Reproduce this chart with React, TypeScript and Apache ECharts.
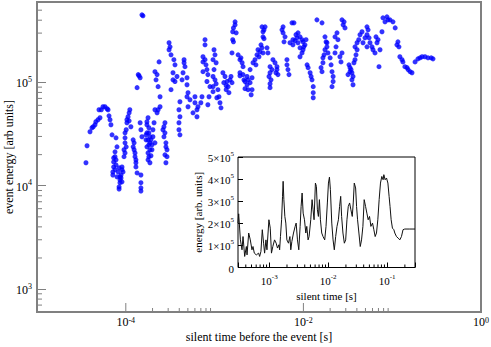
import React, { useEffect, useRef } from "react";
import * as echarts from "echarts";

// ---- main scatter: [silent time (s), event energy (arb units)] ----
const leftStreaks: number[][] = [
  [3.56e-5, 1.67e4], [3.66e-5, 2.44e4], [3.95e-5, 3.33e4], [4.16e-5, 3.64e4], [4.3e-5, 3.72e4], [4.5e-5, 3.89e4],
  [4.6e-5, 4.16e4], [4.86e-5, 4.35e4], [5.12e-5, 4.55e4], [4.99e-5, 5.44e4], [5.3e-5, 5.44e4], [5.53e-5, 5.81e4],
  [5.83e-5, 5.81e4], [6.15e-5, 5.56e4], [6.31e-5, 5.44e4], [6.47e-5, 4.75e4], [6.64e-5, 4.35e4], [6.8e-5, 3.89e4],
  [7.0e-5, 3.11e4], [7.76e-5, 2.91e4],
  [7.96e-5, 2.38e4], [7.56e-5, 2.13e4], [7.56e-5, 1.91e4], [7.3e-5, 1.7e4], [7.3e-5, 1.52e4], [7.15e-5, 1.36e4],
  [7.56e-5, 1.43e4], [7.96e-5, 1.22e4], [7.76e-5, 1.78e4], [7.15e-5, 1.27e4],
  [7.3e-5, 1.86e4], [7.76e-5, 1.59e4], [8.2e-5, 1.36e4], [8.6e-5, 1.22e4], [9.06e-5, 1.09e4], [8.4e-5, 1.49e4],
  [9.06e-5, 1.52e4], [9.06e-5, 1.43e4], [8.83e-5, 1.27e4], [8.6e-5, 1.14e4], [8.6e-5, 1.07e4], [8.4e-5, 9.76e3],
  [8.4e-5, 9.3e3], [8.83e-5, 1.19e4], [9.3e-5, 1.36e4],
  [9.8e-5, 2.6e4], [9.55e-5, 2.23e4], [9.55e-5, 1.91e4], [9.8e-5, 3.25e4], [1.03e-4, 4.07e4], [1.06e-4, 4.65e4],
  [1.11e-4, 5.44e4], [1.09e-4, 5.08e4], [1.14e-4, 3.72e4], [1.03e-4, 4.35e4], [1.01e-4, 3.48e4], [9.8e-5, 2.91e4],
  [1.09e-4, 4.25e4], [1.01e-4, 2.38e4], [9.8e-5, 2.08e4],
  [1.21e-4, 2.78e4], [1.21e-4, 2.38e4], [1.27e-4, 2.08e4], [1.3e-4, 1.78e4], [1.3e-4, 1.52e4], [1.34e-4, 1.33e4],
  [1.24e-4, 2.6e4], [1.24e-4, 2.23e4], [1.27e-4, 1.91e4], [1.3e-4, 1.67e4],
  [1.38e-4, 1.19e5], [1.45e-4, 1.11e5], [1.34e-4, 8.9e4], [1.41e-4, 1.16e5], [1.45e-4, 4.07e4], [1.48e-4, 3.48e4],
  [1.52e-4, 2.98e4], [1.48e-4, 1.27e4], [1.48e-4, 1.07e4], [1.48e-4, 9.55e3], [1.48e-4, 8.9e3], [1.56e-4, 4.41e5],
  [1.52e-4, 4.51e5],
  [1.78e-4, 4.55e4], [1.73e-4, 3.89e4], [1.73e-4, 3.25e4], [1.69e-4, 2.78e4], [1.73e-4, 2.38e4], [1.78e-4, 2.08e4],
  [1.87e-4, 2.98e4], [1.87e-4, 2.6e4], [1.97e-4, 2.23e4], [1.78e-4, 1.78e4], [1.87e-4, 1.67e4], [2.02e-4, 3.48e4],
  [1.82e-4, 3.64e4], [1.92e-4, 1.95e4], [1.69e-4, 3.11e4], [1.82e-4, 2.49e4],
  [1.73e-4, 4.16e4], [1.82e-4, 3.25e4], [1.92e-4, 2.78e4], [1.87e-4, 2.23e4], [1.82e-4, 1.91e4], [1.97e-4, 2.49e4],
  [1.78e-4, 2.78e4],
  [2.13e-4, 1.27e5], [2.25e-4, 1.19e5], [2.19e-4, 1.06e5], [2.31e-4, 9.1e4], [2.37e-4, 1.58e5], [2.43e-4, 7.27e4],
  [2.31e-4, 5.44e4], [2.43e-4, 5.81e4], [2.25e-4, 5.08e4], [2.13e-4, 5.44e4], [2.08e-4, 4.07e4], [2.02e-4, 2.98e4],
  [2.13e-4, 2.6e4],
  [2.76e-4, 4.07e4], [2.69e-4, 2.98e4], [2.83e-4, 2.6e4], [2.91e-4, 2.23e4], [2.91e-4, 1.91e4], [2.83e-4, 1.67e4],
  [2.62e-4, 3.48e4], [2.76e-4, 3.25e4], [2.83e-4, 2.38e4], [2.76e-4, 1.99e4], [2.69e-4, 3.72e4],
  [3.07e-4, 2.42e5], [3.07e-4, 2.07e5], [3.23e-4, 1.85e5], [3.48e-4, 1.66e5], [3.58e-4, 1.48e5], [3.4e-4, 1.24e5],
  [3.4e-4, 1.06e5], [3.58e-4, 1.02e5], [3.23e-4, 8.5e4], [3.77e-4, 1.14e5], [3.15e-4, 2.21e5],
  [4.07e-4, 6.5e4], [3.97e-4, 5.44e4], [4.07e-4, 4.65e4], [3.97e-4, 4.07e4], [3.97e-4, 3.48e4], [4.07e-4, 3.11e4],
  [4.53e-4, 1.66e5], [4.64e-4, 1.42e5], [4.41e-4, 1.24e5], [4.3e-4, 1.06e5], [4.89e-4, 1.11e5], [4.89e-4, 9.5e4],
  [5.02e-4, 7.95e4], [4.89e-4, 7.27e4], [5.28e-4, 6.8e4], [5.02e-4, 5.81e4], [4.53e-4, 1.55e5],
  [6.01e-4, 6.36e4], [6.33e-4, 5.44e4], [5.71e-4, 5.08e4], [6.5e-4, 5.81e4], [6.33e-4, 4.65e4], [6.01e-4, 7.27e4],
];

const middleStreaks: number[][] = [
  [7.21e-4, 7.27e4], [7.0e-4, 6.36e4], [7.8e-4, 2.59e5], [7.8e-4, 2.31e5], [7.4e-4, 1.77e5], [7.4e-4, 1.58e5],
  [7.8e-4, 1.66e5], [8.2e-4, 1.33e5], [7.4e-4, 1.27e5], [8.4e-4, 1.19e5], [8.2e-4, 1.02e5], [8.87e-4, 9.1e4],
  [8.65e-4, 7.27e4], [8.4e-4, 6.08e4], [8.0e-4, 1.48e5],
  [9.85e-4, 2.07e5], [1.01e-3, 1.85e5], [9.6e-4, 1.66e5], [1.04e-3, 1.55e5], [9.6e-4, 1.14e5], [1.01e-3, 1.06e5],
  [9.6e-4, 9.1e4], [1.09e-3, 8.5e4], [1.12e-3, 7.27e4], [1.15e-3, 6.36e4], [1.18e-3, 5.68e4], [1.06e-3, 7.11e4],
  [1.04e-3, 9.7e4], [9.85e-4, 1.33e5], [9.6e-4, 8.13e4],
  [1.24e-3, 1.24e5], [1.31e-3, 1.14e5], [1.38e-3, 1.02e5], [1.27e-3, 9.95e4], [1.42e-3, 9.1e4], [1.35e-3, 8.5e4],
  [1.45e-3, 7.95e4], [1.53e-3, 1.14e5], [1.57e-3, 9.95e4], [1.49e-3, 1.06e5], [1.35e-3, 9.3e4],
  [1.7e-3, 3.86e5], [1.63e-3, 3.37e5], [1.6e-3, 3.09e5], [1.75e-3, 3.02e5], [1.6e-3, 2.59e5], [1.63e-3, 2.47e5],
  [1.57e-3, 1.93e5], [1.7e-3, 3.61e5],
  [1.84e-3, 1.85e5], [1.93e-3, 1.66e5], [2.04e-3, 1.55e5], [2.09e-3, 1.42e5], [1.93e-3, 1.24e5], [1.98e-3, 1.73e5],
  [1.93e-3, 1.16e5], [2.09e-3, 1.19e5], [2.32e-3, 1.14e5], [2.2e-3, 1.02e5], [2.38e-3, 1.06e5], [2.51e-3, 9.95e4],
  [2.32e-3, 9.5e4], [2.51e-3, 1.33e5], [2.38e-3, 8.5e4], [2.64e-3, 8.5e4], [2.58e-3, 7.6e4], [2.2e-3, 8.7e4],
  [2.14e-3, 1.06e5], [2.64e-3, 1.11e5],
  [2.85e-3, 1.66e5], [3.0e-3, 1.85e5], [3.08e-3, 2.07e5], [3.16e-3, 1.77e5], [3.33e-3, 2.31e5], [3.42e-3, 2.16e5],
  [3.51e-3, 1.93e5], [2.71e-3, 1.55e5], [2.92e-3, 1.48e5], [3.24e-3, 1.98e5],
  [3.42e-3, 3.45e5], [3.7e-3, 3.45e5], [3.51e-3, 3.09e5], [3.51e-3, 2.76e5], [3.6e-3, 2.65e5], [3.6e-3, 3.23e5],
  [3.89e-3, 2.16e5], [3.99e-3, 1.93e5], [4.21e-3, 1.42e5], [4.43e-3, 1.33e5], [4.21e-3, 1.24e5], [4.32e-3, 1.06e5],
  [4.21e-3, 8.9e4], [4.21e-3, 9.7e4], [4.54e-3, 1.66e5], [4.79e-3, 1.55e5], [5.04e-3, 1.42e5], [4.91e-3, 1.24e5],
  [5.04e-3, 1.33e5], [5.17e-3, 1.19e5], [4.1e-3, 1.14e5],
  [5.9e-3, 3.45e5], [5.9e-3, 3.02e5], [6.21e-3, 2.76e5], [6.05e-3, 2.47e5], [6.53e-3, 1.66e5], [6.53e-3, 1.48e5],
  [6.7e-3, 1.33e5], [6.88e-3, 1.19e5], [5.74e-3, 3.23e5],
  [7.44e-3, 3.77e5], [7.83e-3, 3.77e5], [7.63e-3, 2.59e5], [7.06e-3, 2.42e5], [7.63e-3, 2.31e5], [8.47e-3, 2.7e5],
  [9.16e-3, 2.76e5], [9.64e-3, 2.59e5], [9.9e-3, 2.47e5], [8.7e-3, 2.42e5], [1.04e-2, 2.31e5], [9.16e-3, 2.16e5],
  [9.9e-3, 2.07e5], [9.64e-3, 1.93e5], [9.16e-3, 1.77e5], [1.07e-2, 2.59e5], [8.7e-3, 3.02e5], [8.25e-3, 2.89e5],
  [8.04e-3, 2.53e5], [1.01e-2, 2.21e5],
  [1.1e-2, 1.48e5], [1.13e-2, 1.39e5], [1.19e-2, 1.24e5], [1.25e-2, 1.06e5], [1.29e-2, 9.1e4], [1.29e-2, 7.95e4],
  [1.29e-2, 7.11e4], [1.22e-2, 1.14e5], [1.42e-2, 4.03e5],
];

const rightStreaks: number[][] = [
  [1.62e-2, 3.77e5], [1.75e-2, 2.76e5], [1.8e-2, 2.47e5], [1.84e-2, 2.21e5], [1.75e-2, 2.07e5], [1.66e-2, 1.73e5],
  [1.66e-2, 1.55e5], [1.62e-2, 1.27e5], [1.84e-2, 2.42e5], [1.89e-2, 1.93e5], [1.71e-2, 1.85e5], [1.58e-2, 1.39e5],
  [2.0e-2, 1.73e5], [2.05e-2, 1.48e5], [2.1e-2, 1.27e5], [2.16e-2, 1.14e5], [2.16e-2, 1.02e5], [2.1e-2, 9.1e4],
  [2.27e-2, 2.76e5], [2.39e-2, 3.02e5], [2.45e-2, 2.59e5], [2.33e-2, 2.21e5], [2.27e-2, 1.93e5], [2.58e-2, 1.77e5],
  [2.65e-2, 1.58e5], [2.72e-2, 1.93e5], [2.8e-2, 3.61e5], [2.94e-2, 3.37e5], [2.72e-2, 4.03e5], [2.87e-2, 3.86e5],
  [3.26e-2, 1.48e5], [3.44e-2, 1.33e5], [3.52e-2, 1.24e5], [3.18e-2, 1.19e5], [3.62e-2, 1.14e5], [3.62e-2, 9.5e4],
  [3.35e-2, 1.27e5], [3.81e-2, 1.66e5], [3.91e-2, 1.85e5], [4.02e-2, 2.07e5], [3.81e-2, 2.21e5], [4.02e-2, 2.42e5],
  [4.2e-2, 2.59e5], [4.34e-2, 2.89e5], [4.57e-2, 3.09e5], [3.71e-2, 1.55e5], [3.35e-2, 1.39e5], [3.52e-2, 1.06e5],
  [5.2e-2, 3.45e5], [5.35e-2, 3.23e5], [5.2e-2, 2.89e5], [5.49e-2, 2.7e5], [5.62e-2, 2.42e5], [5.92e-2, 2.21e5],
  [6.08e-2, 2.07e5], [6.4e-2, 1.93e5], [6.74e-2, 2.42e5], [6.92e-2, 2.59e5], [6.57e-2, 2.76e5], [7.29e-2, 2.07e5],
  [4.94e-2, 2.7e5], [4.69e-2, 2.42e5], [5.2e-2, 2.21e5], [7.67e-2, 3.09e5], [7.1e-2, 1.42e5],
  [7.87e-2, 4.22e5], [8.73e-2, 4.31e5], [9.44e-2, 4.03e5], [0.102, 3.86e5], [8.3e-2, 3.86e5], [0.108, 3.37e5],
  [8.95e-2, 4.03e5],
  [0.116, 2.47e5], [0.113, 2.31e5], [0.119, 2.21e5], [0.122, 1.77e5], [0.129, 1.66e5], [0.132, 1.58e5],
  [0.139, 1.42e5], [0.147, 1.39e5], [0.159, 1.27e5], [0.167, 1.24e5], [0.151, 1.33e5],
  [0.181, 1.58e5], [0.195, 1.69e5], [0.206, 1.73e5], [0.217, 1.77e5], [0.234, 1.77e5], [0.253, 1.73e5],
  [0.275, 1.73e5], [0.288, 1.69e5],
];

// ---- inset line: energy vs silent time ----
const insetTime: number[] = [
  2.95e-4, 3.03e-4, 3.24e-4, 3.45e-4, 3.59e-4, 3.83e-4, 4.09e-4, 4.2e-4, 4.48e-4, 4.77e-4, 5.09e-4, 5.3e-4,
  5.58e-4, 6.03e-4, 6.6e-4, 6.87e-4, 7.23e-4, 7.62e-4, 8.02e-4, 8.34e-4, 8.79e-4, 9.14e-4, 9.87e-4, 1.04e-3,
  1.09e-3, 1.15e-3, 1.23e-3, 1.31e-3, 1.38e-3, 1.46e-3, 1.5e-3, 1.55e-3, 1.62e-3, 1.68e-3, 1.72e-3, 1.77e-3,
  1.84e-3, 1.91e-3, 1.99e-3, 2.12e-3, 2.24e-3, 2.32e-3, 2.42e-3, 2.58e-3, 2.75e-3, 2.86e-3, 3.01e-3, 3.17e-3,
  3.34e-3, 3.47e-3, 3.61e-3, 3.76e-3, 3.96e-3, 4.17e-3, 4.33e-3, 4.56e-3, 4.74e-3, 5.06e-3, 5.33e-3, 5.54e-3,
  5.76e-3, 6.07e-3, 6.31e-3, 6.56e-3, 6.82e-3, 7.1e-3, 7.38e-3, 7.77e-3, 8.18e-3, 8.73e-3, 9.19e-3, 9.68e-3,
  1.01e-2, 1.05e-2, 1.09e-2, 1.15e-2, 1.21e-2, 1.27e-2, 1.34e-2, 1.41e-2, 1.49e-2, 1.56e-2, 1.63e-2, 1.69e-2,
  1.78e-2, 1.88e-2, 1.98e-2, 2.08e-2, 2.19e-2, 2.31e-2, 2.43e-2, 2.56e-2, 2.66e-2, 2.77e-2, 2.92e-2, 3.03e-2,
  3.15e-2, 3.32e-2, 3.5e-2, 3.68e-2, 3.88e-2, 4.08e-2, 4.31e-2, 4.53e-2, 4.77e-2, 5.03e-2, 5.3e-2, 5.65e-2,
  5.95e-2, 6.27e-2, 6.6e-2, 6.95e-2, 7.32e-2, 7.71e-2, 8.12e-2, 8.55e-2, 8.79e-2, 9.25e-2, 9.75e-2, 0.103,
  0.108, 0.112, 0.117, 0.123, 0.13, 0.135, 0.144, 0.154, 0.164, 0.175, 0.186, 0.199, 0.242, 0.297,
];
const insetEnergy: number[] = [
  2.01e5, 2.43e5, 1.25e5, 8.0e4, 1.4e5, 5.0e4, 9.5e4, 5.7e4, 1.56e5, 1.25e5, 8.0e4, 9.5e4,
  6.5e4, 5.7e4, 6.5e4, 5.0e4, 7.3e4, 1.71e5, 1.1e5, 6.5e4, 1.25e5, 8.0e4, 2.16e5, 1.78e5,
  6.5e4, 9.5e4, 1.25e5, 1.1e5, 8.8e4, 1.03e5, 8.0e4, 1.4e5, 2.16e5, 3.22e5, 3.9e5, 3.07e5,
  2.31e5, 2.01e5, 1.25e5, 1.1e5, 1.4e5, 8.0e4, 1.18e5, 1.56e5, 1.86e5, 2.01e5, 1.25e5, 8.0e4,
  1.86e5, 2.76e5, 3.37e5, 2.46e5, 2.16e5, 1.56e5, 1.86e5, 1.25e5, 1.4e5, 2.16e5, 3.07e5, 2.61e5,
  2.16e5, 3.82e5, 3.67e5, 2.61e5, 2.31e5, 3.07e5, 2.16e5, 1.56e5, 1.4e5, 1.25e5, 1.86e5, 2.92e5,
  3.82e5, 4.09e5, 3.52e5, 2.01e5, 1.25e5, 8.0e4, 1.4e5, 1.86e5, 2.16e5, 2.76e5, 3.22e5, 2.31e5,
  1.56e5, 1.1e5, 1.25e5, 2.16e5, 2.76e5, 2.92e5, 2.61e5, 2.31e5, 2.92e5, 3.82e5, 3.6e5, 2.76e5,
  2.16e5, 1.56e5, 9.5e4, 1.25e5, 1.86e5, 3.07e5, 2.76e5, 2.46e5, 2.16e5, 2.31e5, 1.86e5, 2.01e5,
  1.71e5, 1.4e5, 1.56e5, 2.16e5, 3.07e5, 3.82e5, 4.12e5, 3.97e5, 4.2e5, 3.97e5, 4.05e5, 3.82e5,
  3.22e5, 2.76e5, 2.16e5, 1.78e5, 1.71e5, 1.56e5, 1.4e5, 1.33e5, 1.25e5, 1.4e5, 1.71e5, 1.74e5, 1.74e5, 1.74e5,
];

// ---- tick positions drawn as marks ----
const mainYMinorTicks: number[] = [700, 800, 900, 2000, 3000, 4000, 5000, 6000, 7000, 8000, 9000,
  2e4, 3e4, 4e4, 5e4, 6e4, 7e4, 8e4, 9e4, 2e5, 3e5, 4e5, 5e5];
const mainXMajorTicks: number[] = [1e-4, 1e-2];
const mainXMinorTicks: number[] = [2e-4, 3e-4, 4e-4, 5e-4, 6e-4, 7e-4, 8e-4, 9e-4,
  2e-2, 3e-2, 4e-2, 5e-2, 6e-2, 7e-2, 8e-2, 9e-2];
const insetXMinorTicks: number[] = [4e-4, 5e-4, 6e-4, 7e-4, 8e-4, 9e-4, 2e-3, 3e-3, 4e-3, 5e-3, 6e-3, 7e-3,
  8e-3, 9e-3, 2e-2, 3e-2, 4e-2, 5e-2, 6e-2, 7e-2, 8e-2, 9e-2, 0.2];

const FONT = "Liberation Serif";
const GRAY = "#808080";

function expOf(v: number): number | null {
  const l = Math.log10(v);
  const e = Math.round(l);
  return Math.abs(l - e) < 1e-6 ? e : null;
}

const supRich = (size: number, lh = size + 2) => ({
  b: { fontFamily: FONT, fontSize: size, color: "#000", lineHeight: lh, verticalAlign: "bottom" },
  s: { fontFamily: FONT, fontSize: size - 4, color: "#000", lineHeight: size - 3, verticalAlign: "top" },
});

export default function App() {
  const ref = useRef<HTMLDivElement>(null);
  useEffect(() => {
    if (!ref.current) return;
    const chart = echarts.init(ref.current, undefined, { renderer: "svg" });

    const tickSeries = (
      name: string, xi: number, yi: number, data: number[][], dir: "right" | "up", color: string
    ) => ({
      type: "custom",
      name,
      xAxisIndex: xi,
      yAxisIndex: yi,
      silent: true,
      clip: false,
      z: 5,
      data,
      renderItem: (_p: any, api: any) => {
        const pt = api.coord([api.value(0), api.value(1)]);
        const len = api.value(2);
        return {
          type: "line",
          shape: dir === "right"
            ? { x1: pt[0], y1: pt[1], x2: pt[0] + len, y2: pt[1] }
            : { x1: pt[0], y1: pt[1], x2: pt[0], y2: pt[1] - len },
          style: { stroke: color, lineWidth: 1 },
        };
      },
    });

    const scatterData = [...leftStreaks, ...middleStreaks, ...rightStreaks];

    chart.setOption({
      animation: false,
      backgroundColor: "#ffffff",
      textStyle: { fontFamily: FONT },
      grid: [
        { left: 37, top: 2, width: 444, height: 310, show: true, borderColor: GRAY, borderWidth: 2, backgroundColor: "transparent", outerBoundsMode: "none", containLabel: false },
        { left: 238, top: 157, width: 177, height: 110.5, show: true, borderColor: "#000", borderWidth: 1, backgroundColor: "#fff", z: 10, outerBoundsMode: "none", containLabel: false },
      ],
      xAxis: [
        {
          type: "log", logBase: 10, min: 1e-5, max: 1, gridIndex: 0,
          axisLine: { show: false }, axisTick: { show: false }, splitLine: { show: false },
          axisLabel: {
            margin: 4, showMinLabel: true, showMaxLabel: true,
            formatter: (v: number) => { const e = expOf(v); return e !== null && e % 2 === 0 ? `{b|10}{s|${e}}` : ""; },
            rich: supRich(12, 12),
          },
          name: "silent time before the event [s]", nameLocation: "middle", nameGap: 19, nameMoveOverlap: false,
          nameTextStyle: { fontFamily: FONT, fontSize: 12, color: "#000" },
        },
        {
          type: "log", logBase: 10, min: 2.95e-4, max: 0.297, gridIndex: 1, z: 10,
          axisLine: { show: false }, splitLine: { show: false },
          axisTick: { show: true, inside: true, length: 5, lineStyle: { color: "#000" } },
          axisLabel: {
            margin: 6,
            formatter: (v: number) => { const e = expOf(v); return e !== null ? `{b|10}{s|${e}}` : ""; },
            rich: supRich(11),
          },
          name: "silent time [s]", nameLocation: "middle", nameGap: 23,
          nameTextStyle: { fontFamily: FONT, fontSize: 11, color: "#000" },
        },
      ],
      yAxis: [
        {
          type: "log", logBase: 10, min: 600, max: 6e5, gridIndex: 0,
          axisLine: { show: false }, splitLine: { show: false },
          axisTick: { show: true, inside: true, length: 9, lineStyle: { color: GRAY } },
          axisLabel: {
            margin: 5,
            formatter: (v: number) => { const e = expOf(v); return e !== null ? `{b|10}{s|${e}}` : ""; },
            rich: supRich(12),
          },
          name: "event energy [arb units]", nameLocation: "middle", nameGap: 22, nameMoveOverlap: false,
          nameTextStyle: { fontFamily: FONT, fontSize: 12, color: "#000" },
        },
        {
          type: "value", min: 0, max: 5e5, interval: 1e5, gridIndex: 1, z: 10,
          axisLine: { show: false }, splitLine: { show: false },
          axisTick: { show: true, inside: true, length: 5, lineStyle: { color: "#000" } },
          axisLabel: {
            margin: 4,
            formatter: (v: number) => (v === 0 ? "{b|0}" : `{b|${Math.round(v / 1e5)}×10}{s|5}`),
            rich: supRich(11),
          },
          name: "energy [arb. units]", nameLocation: "middle", nameGap: 34,
          nameTextStyle: { fontFamily: FONT, fontSize: 11, color: "#000" },
        },
      ],
      series: [
        {
          type: "scatter", name: "events", xAxisIndex: 0, yAxisIndex: 0,
          symbol: "circle", symbolSize: 5,
          itemStyle: { color: "#0000ff" },
          data: scatterData,
        },
        tickSeries("yMinor", 0, 0, mainYMinorTicks.map((v) => [1e-5, v, 5]), "right", GRAY),
        tickSeries("xMajor", 0, 0, mainXMajorTicks.map((v) => [v, 600, 9]), "up", GRAY),
        tickSeries("xMinor", 0, 0, mainXMinorTicks.map((v) => [v, 600, 4]), "up", GRAY),
        {
          type: "line", name: "inset", xAxisIndex: 1, yAxisIndex: 1, z: 12,
          showSymbol: false, symbol: "none",
          lineStyle: { color: "#111", width: 1 },
          data: insetTime.map((t, i) => [t, insetEnergy[i]]),
        },
        { ...tickSeries("insetXMinor", 1, 1, insetXMinorTicks.map((v) => [v, 0, 3]), "up", "#000"), z: 12 },
      ],
    });
    return () => chart.dispose();
  }, []);
  return <div ref={ref} style={{ position: "fixed", left: 0, top: 0, width: 491, height: 347 }} />;
}
